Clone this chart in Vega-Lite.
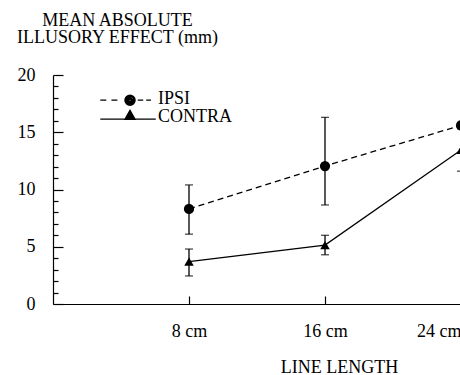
{
  "$schema": "https://vega.github.io/schema/vega-lite/v6.json",
  "autosize": "none",
  "padding": {"left": 53, "top": 75, "right": 0, "bottom": 71},
  "width": 408,
  "height": 229,
  "background": "white",
  "config": {
    "view": {"stroke": null},
    "axis": {
      "grid": false,
      "domainColor": "black",
      "domainWidth": 1.2,
      "tickColor": "black",
      "tickWidth": 1.2,
      "labelFont": "Liberation Serif",
      "labelFontSize": 18,
      "labelColor": "black",
      "labelOverlap": false,
      "titleFont": "Liberation Serif",
      "titleFontSize": 18,
      "titleFontWeight": "normal",
      "titleColor": "black"
    }
  },
  "data": {
    "values": [
      {"len": 8, "series": "IPSI", "mean": 8.3, "lo": 6.1, "hi": 10.4},
      {"len": 16, "series": "IPSI", "mean": 12.05, "lo": 8.65, "hi": 16.3},
      {"len": 24, "series": "IPSI", "mean": 15.6, "lo": 15.6, "hi": 15.6},
      {"len": 8, "series": "CONTRA", "mean": 3.7, "lo": 2.45, "hi": 4.8},
      {"len": 16, "series": "CONTRA", "mean": 5.15, "lo": 4.3, "hi": 6.0},
      {"len": 24, "series": "CONTRA", "mean": 13.45, "lo": 11.6, "hi": 15.3}
    ]
  },
  "layer": [
    {
      "mark": {"type": "point", "filled": false, "color": "black", "strokeWidth": 1.3, "opacity": 1, "size": 0},
      "encoding": {
        "x": {
          "field": "len", "type": "quantitative",
          "scale": {"domain": [0, 24], "nice": false},
          "axis": {
            "values": [8, 16, 24],
            "labelExpr": "datum.value + ' cm'",
            "tickSize": -8,
            "labelPadding": 26,
            "labelFlush": true,
            "title": "LINE LENGTH",
            "titleAnchor": null,
            "titleAlign": "center",
            "titleX": 286,
            "titleY": 68,
            "titleBaseline": "alphabetic"
          }
        },
        "y": {
          "field": "mean", "type": "quantitative",
          "title": ["MEAN ABSOLUTE", "ILLUSORY EFFECT (mm)"],
          "scale": {"domain": [0, 20], "nice": false},
          "axis": {
            "values": [0,1,2,3,4,5,6,7,8,9,10,11,12,13,14,15,16,17,18,19,20],
            "tickCount": 40,
            "labelExpr": "datum.value % 5 === 0 ? '' + datum.value : ''",
            "tickSize": {"condition": {"test": "datum.value % 5 === 0", "value": -10}, "value": -5},
            "labelPadding": 28,
            "titleAngle": 0,
            "titleAnchor": null,
            "titleAlign": "center",
            "titleBaseline": "alphabetic",
            "titleLineHeight": 17.5,
            "titleX": 64,
            "titleY": -50
          }
        },
        "shape": {
          "field": "series", "type": "nominal",
          "scale": {"domain": ["IPSI", "CONTRA"], "range": [
            "M-4.95,0.2L-3.95,0.2M-3.1,0.2L-2.1,0.2M1.3,0.2L2.2,0.2M2.7,0.2L3.5,0.2M-0.85,0.2A0.85,0.85,0,1,0,0.85,0.2A0.85,0.85,0,1,0,-0.85,0.2M-0.63,0.2A0.63,0.63,0,1,0,0.63,0.2A0.63,0.63,0,1,0,-0.63,0.2M-0.41,0.2A0.41,0.41,0,1,0,0.41,0.2A0.41,0.41,0,1,0,-0.41,0.2M-0.19,0.2A0.19,0.19,0,1,0,0.19,0.2A0.19,0.19,0,1,0,-0.19,0.2",
            "M-4.95,0.35L4.3,0.35M0,-1.1L0.85,0.4L-0.85,0.4ZM-0.11,-0.9L0.11,-0.9M-0.23,-0.7L0.23,-0.7M-0.34,-0.5L0.34,-0.5M-0.45,-0.3L0.45,-0.3M-0.57,-0.1L0.57,-0.1M-0.68,0.1L0.68,0.1M-0.79,0.3L0.79,0.3"
          ]},
          "legend": {
            "title": null,
            "orient": "none",
            "legendX": 68,
            "legendY": 15,
            "padding": 0,
            "symbolSize": 144,
            "symbolOpacity": 1,
            "symbolStrokeColor": "black",
            "symbolStrokeWidth": 1.3,
            "labelOffset": 19,
            "labelFont": "Liberation Serif",
            "labelFontSize": 18,
            "labelColor": "black",
            "rowPadding": -5
          }
        }
      }
    },
    {
      "mark": {"type": "errorbar", "ticks": {"size": 8, "thickness": 1.3, "color": "black"}, "rule": {"strokeWidth": 1.3, "color": "black"}},
      "encoding": {
        "x": {"field": "len", "type": "quantitative"},
        "y": {"field": "lo", "type": "quantitative", "title": ["MEAN ABSOLUTE", "ILLUSORY EFFECT (mm)"]},
        "y2": {"field": "hi"}
      }
    },
    {
      "transform": [{"filter": "datum.series === 'IPSI'"}],
      "mark": {"type": "line", "color": "black", "strokeWidth": 1.3, "strokeDash": [6, 4]},
      "encoding": {
        "x": {"field": "len", "type": "quantitative"},
        "y": {"field": "mean", "type": "quantitative"}
      }
    },
    {
      "transform": [{"filter": "datum.series === 'CONTRA'"}],
      "mark": {"type": "line", "color": "black", "strokeWidth": 1.3},
      "encoding": {
        "x": {"field": "len", "type": "quantitative"},
        "y": {"field": "mean", "type": "quantitative"}
      }
    },
    {
      "transform": [{"filter": "datum.series === 'IPSI'"}],
      "mark": {"type": "point", "filled": true, "color": "black", "opacity": 1, "shape": "circle", "size": 105},
      "encoding": {
        "x": {"field": "len", "type": "quantitative"},
        "y": {"field": "mean", "type": "quantitative"}
      }
    },
    {
      "transform": [{"filter": "datum.series === 'CONTRA'"}],
      "mark": {"type": "point", "filled": true, "color": "black", "opacity": 1, "shape": "triangle-up", "size": 90},
      "encoding": {
        "x": {"field": "len", "type": "quantitative"},
        "y": {"field": "mean", "type": "quantitative"}
      }
    }
  ]
}
